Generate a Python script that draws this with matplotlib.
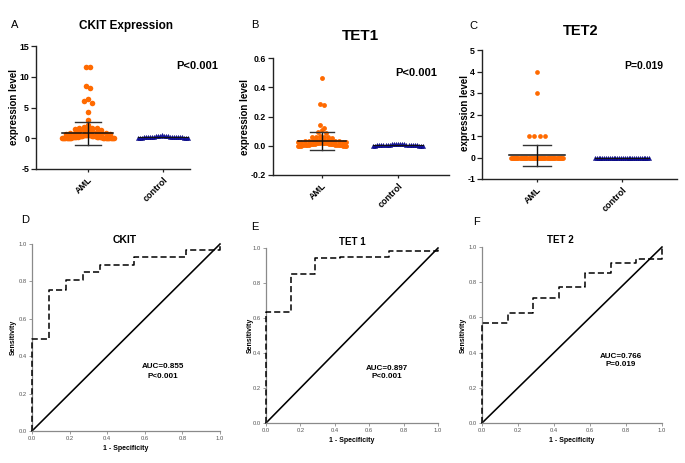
import numpy as np
import matplotlib
matplotlib.use("Agg")
import matplotlib.pyplot as plt

plt.rcParams['font.family'] = ['Liberation Sans', 'DejaVu Sans']

# ---------------- data ----------------
groups = ["AML", "control"]

ckit_aml = [11.6, 11.6, 8.5, 8.2, 6.4, 6.0, 5.8, 4.2, 2.95, 2.2, 1.9, 1.8, 1.7, 1.6,
            1.6, 1.5, 1.4, 1.3, 1.3, 1.2, 1.1, 1.0, 0.9, 0.9, 0.8, 0.8, 0.7, 0.7, 0.6,
            0.6, 0.55, 0.5, 0.5, 0.5, 0.45, 0.4, 0.4, 0.4, 0.35, 0.35, 0.3, 0.3, 0.3,
            0.28, 0.25, 0.25, 0.2, 0.2, 0.2, 0.2, 0.18, 0.15, 0.15, 0.12, 0.1, 0.1,
            0.1, 0.1, 0.08, 0.07, 0.05, 0.05, 0.05, 0.04, 0.03, 0.03, 0.02, 0.02,
            0.01, 0.01, 0.0, 0.0]
ckit_ctrl = [0.05, 0.08, 0.1, 0.1, 0.12, 0.12, 0.15, 0.15, 0.15, 0.18, 0.18, 0.2, 0.2,
             0.2, 0.22, 0.22, 0.25, 0.25, 0.28, 0.3, 0.3, 0.32, 0.35, 0.4, 0.42, 0.45]
ckit_mean = [0.8, 0.2]
ckit_sd = [1.85, 0.1]

tet1_aml = [0.465, 0.285, 0.278, 0.142, 0.12, 0.108, 0.092, 0.085, 0.065, 0.062, 0.06,
            0.06, 0.058, 0.056, 0.045, 0.042, 0.04, 0.038, 0.036, 0.035, 0.033, 0.032,
            0.03, 0.03, 0.028, 0.027, 0.026, 0.025, 0.024, 0.022, 0.021, 0.02, 0.02,
            0.018, 0.017, 0.016, 0.015, 0.014, 0.013, 0.012, 0.011, 0.01, 0.01, 0.009,
            0.008, 0.007, 0.006, 0.005, 0.005, 0.004, 0.003, 0.003, 0.002, 0.002,
            0.001, 0.001, 0.0, 0.0, 0.0, 0.0]
tet1_ctrl = [0.0, 0.0, 0.0, 0.001, 0.001, 0.002, 0.002, 0.003, 0.003, 0.004, 0.004,
             0.005, 0.005, 0.006, 0.006, 0.007, 0.008, 0.008, 0.009, 0.01, 0.01, 0.012,
             0.012, 0.014, 0.015]
tet1_mean = [0.032, 0.005]
tet1_sd = [0.06, 0.003]

tet2_aml = [4.0, 3.0, 1.0, 1.0, 1.0, 1.0] + [0.0] * 48
tet2_ctrl = [0.0] * 30
tet2_mean = [0.1, 0.0]
tet2_sd = [0.5, 0.0]

roc_ticks = [0.0, 0.2, 0.4, 0.6, 0.8, 1.0]
ckit_fpr = [0.0, 0.0, 0.091, 0.182, 0.273, 0.364, 0.545, 0.818, 1.0]
ckit_tpr = [0.0, 0.49, 0.755, 0.81, 0.85, 0.89, 0.93, 0.968, 1.0]
tet1_fpr = [0.0, 0.0, 0.143, 0.286, 0.429, 0.714, 1.0]
tet1_tpr = [0.0, 0.636, 0.851, 0.941, 0.947, 0.985, 1.0]
tet2_fpr = [0.0, 0.0, 0.143, 0.286, 0.429, 0.571, 0.714, 0.857, 1.0]
tet2_tpr = [0.0, 0.566, 0.623, 0.71, 0.774, 0.85, 0.91, 0.93, 1.0]

ORANGE = '#FF6A00'
BLUE = '#1414A8'

# ---------------- figure ----------------
W, H = 685, 463
fig = plt.figure(figsize=(W / 100, H / 100), dpi=100)


def add_ax(l, t, r, b):
    return fig.add_axes([l / W, 1 - b / H, (r - l) / W, (b - t) / H])


def ftext(x, y, s, **kw):
    kw.setdefault('ha', 'center')
    kw.setdefault('va', 'center')
    fig.text(x / W, 1 - y / H, s, **kw)


def swarm_offsets(values, ax, d_px, cap):
    pos = ax.get_position()
    ylo, yhi = ax.get_ylim()
    xlo, xhi = ax.get_xlim()
    ypu = pos.height * H / (yhi - ylo)
    xpu = pos.width * W / (xhi - xlo)
    vals = np.asarray(values, float)
    order = np.argsort(vals)
    offs = np.zeros(len(vals))
    rows = []
    cur = []
    start = None
    for i in order:
        if start is None or (vals[i] - start) * ypu > d_px:
            if cur:
                rows.append(cur)
            cur = [i]
            start = vals[i]
        else:
            cur.append(i)
    if cur:
        rows.append(cur)
    for row in rows:
        n = len(row)
        sp = d_px * 1.1
        if n > 1 and sp * (n - 1) > 2 * cap * xpu:
            sp = 2 * cap * xpu / (n - 1)
        slots = (np.arange(n) - (n - 1) / 2) * sp
        slots = slots[np.argsort(np.abs(slots), kind='stable')]
        row_sorted = sorted(row, key=lambda k: -vals[k])
        for k, s in zip(row_sorted, slots):
            offs[k] = s / xpu
    return offs


def scatter_panel(box, xlim, ylim, yticks, ytlabels, aml, ctrl, mean, sd,
                  msize, dpx, cap, mhw, chw):
    ax = add_ax(*box)
    ax.set_xlim(*xlim)
    ax.set_ylim(*ylim)
    for s in ['top', 'right']:
        ax.spines[s].set_visible(False)
    for s in ['left', 'bottom']:
        ax.spines[s].set_linewidth(1.0)
        ax.spines[s].set_color('#222222')
    ax.set_yticks(yticks)
    ax.set_yticklabels(ytlabels, fontsize=6.3, fontweight='bold')
    ax.set_xticks([0, 1])
    ax.set_xticklabels(groups, fontsize=6.5, fontweight='bold', rotation=45,
                       ha='right', rotation_mode='anchor')
    ax.tick_params(axis='y', length=3.5, width=0.9, pad=1.5, colors='#222222')
    ax.tick_params(axis='x', length=2.5, width=0.9, pad=2, colors='#222222')
    for lab in ax.get_xticklabels() + ax.get_yticklabels():
        lab.set_color('black')
    # AML swarm
    off = swarm_offsets(aml, ax, dpx, cap)
    ax.plot(0 + off, aml, 'o', color=ORANGE, markersize=msize, markeredgewidth=0,
            zorder=2, clip_on=False)
    # control
    offc = swarm_offsets(ctrl, ax, 2.5, chw)
    ax.plot(1 + offc, ctrl, '^', color=BLUE, markersize=3.0, markeredgewidth=0.3,
            markeredgecolor='#000070', zorder=2, clip_on=False)
    # mean and SD
    ax.plot([-mhw, mhw], [mean[0], mean[0]], color='#111111', lw=1.1, zorder=3)
    ax.plot([0, 0], [mean[0] - sd[0], mean[0] + sd[0]], color='#111111', lw=1.0, zorder=3)
    for yy in (mean[0] - sd[0], mean[0] + sd[0]):
        ax.plot([-mhw / 2, mhw / 2], [yy, yy], color='#333333', lw=1.0, zorder=3)
    ax.plot([1 - chw, 1 + chw], [mean[1], mean[1]], color='#111111', lw=0.8, zorder=3)
    return ax


# A
scatter_panel((36, 46, 190, 169), (-0.693, 1.36), (-5, 15), [-5, 0, 5, 10, 15],
              ['-5', '0', '5', '10', '15'], ckit_aml, ckit_ctrl, ckit_mean, ckit_sd,
              4.0, 4.0, 0.35, 0.34, 0.33)
# B
scatter_panel((273, 58, 449, 175), (-0.645, 1.67), (-0.2, 0.6), [-0.2, 0.0, 0.2, 0.4, 0.6],
              ['-0.2', '0.0', '0.2', '0.4', '0.6'], tet1_aml, tet1_ctrl, tet1_mean, tet1_sd,
              3.5, 3.6, 0.32, 0.32, 0.33)
# C
scatter_panel((482, 50, 677, 179), (-0.647, 1.647), (-1, 5), [-1, 0, 1, 2, 3, 4, 5],
              ['-1', '0', '1', '2', '3', '4', '5'], tet2_aml, tet2_ctrl, tet2_mean, tet2_sd,
              3.4, 4.6, 0.31, 0.33, 0.32)

# titles / labels top row
ftext(15, 25, 'A', fontsize=8)
ftext(255, 25, 'B', fontsize=8)
ftext(473, 26, 'C', fontsize=8)
ftext(126, 26, 'CKIT Expression', fontsize=8.5, fontweight='bold')
ftext(360, 36, 'TET1', fontsize=11, fontweight='bold')
ftext(581, 31, 'TET2', fontsize=10.5, fontweight='bold')
ftext(197, 66, 'P<0.001', fontsize=8, fontweight='bold')
ftext(416, 73, 'P<0.001', fontsize=8, fontweight='bold')
ftext(644, 66, 'P=0.019', fontsize=7.5, fontweight='bold')
ftext(14, 107, 'expression level', fontsize=7, fontweight='bold', rotation=90)
ftext(245, 117, 'expression level', fontsize=7, fontweight='bold', rotation=90)
ftext(465, 113, 'expression level', fontsize=7, fontweight='bold', rotation=90)


# ROC panels
def roc_panel(box, fpr, tpr):
    ax = add_ax(*box)
    ax.set_xlim(0, 1)
    ax.set_ylim(0, 1)
    for s in ['top', 'right']:
        ax.spines[s].set_visible(False)
    for s in ['left', 'bottom']:
        ax.spines[s].set_color('#8a8a8a')
        ax.spines[s].set_linewidth(0.9)
    ax.set_xticks(roc_ticks)
    ax.set_yticks(roc_ticks)
    labs = ['%.1f' % t for t in roc_ticks]
    ax.set_xticklabels(labs, fontsize=4.2, color='#555555')
    ax.set_yticklabels(labs, fontsize=4.2, color='#555555')
    ax.tick_params(length=2, width=0.6, colors='#8a8a8a', pad=1.5)
    for lab in ax.get_xticklabels() + ax.get_yticklabels():
        lab.set_color('#555555')
    ax.plot([0, 1], [0, 1], color='black', lw=1.15, clip_on=False, zorder=2)
    ax.plot(fpr, tpr, drawstyle='steps-post', color='black', lw=1.1,
            dashes=(4, 2), clip_on=False, zorder=3)
    return ax


roc_panel((32, 244, 220, 431), ckit_fpr, ckit_tpr)
roc_panel((266, 248, 438, 423), tet1_fpr, tet1_tpr)
roc_panel((482, 247, 662, 423), tet2_fpr, tet2_tpr)

ftext(25, 220, 'D', fontsize=8)
ftext(255, 227, 'E', fontsize=8)
ftext(477, 222, 'F', fontsize=8)
ftext(125, 240, 'CKIT', fontsize=7.5, fontweight='bold')
ftext(352, 242, 'TET 1', fontsize=7, fontweight='bold')
ftext(560, 240, 'TET 2', fontsize=7, fontweight='bold')
ftext(163, 367, 'AUC=0.855', fontsize=5.8, fontweight='bold')
ftext(163, 376, 'P<0.001', fontsize=5.8, fontweight='bold')
ftext(387, 369, 'AUC=0.897', fontsize=5.8, fontweight='bold')
ftext(387, 377, 'P<0.001', fontsize=5.8, fontweight='bold')
ftext(621, 356, 'AUC=0.766', fontsize=5.8, fontweight='bold')
ftext(621, 364, 'P=0.019', fontsize=5.8, fontweight='bold')
ftext(13, 337, 'Sensitivity', fontsize=5, fontweight='bold', rotation=90)
ftext(250, 335, 'Sensitivity', fontsize=5, fontweight='bold', rotation=90)
ftext(463, 335, 'Sensitivity', fontsize=5, fontweight='bold', rotation=90)
ftext(126, 449, '1 - Specificity', fontsize=5, fontweight='bold')
ftext(352, 441, '1 - Specificity', fontsize=5, fontweight='bold')
ftext(572, 441, '1 - Specificity', fontsize=5, fontweight='bold')

fig.savefig('out.png', dpi=100)
